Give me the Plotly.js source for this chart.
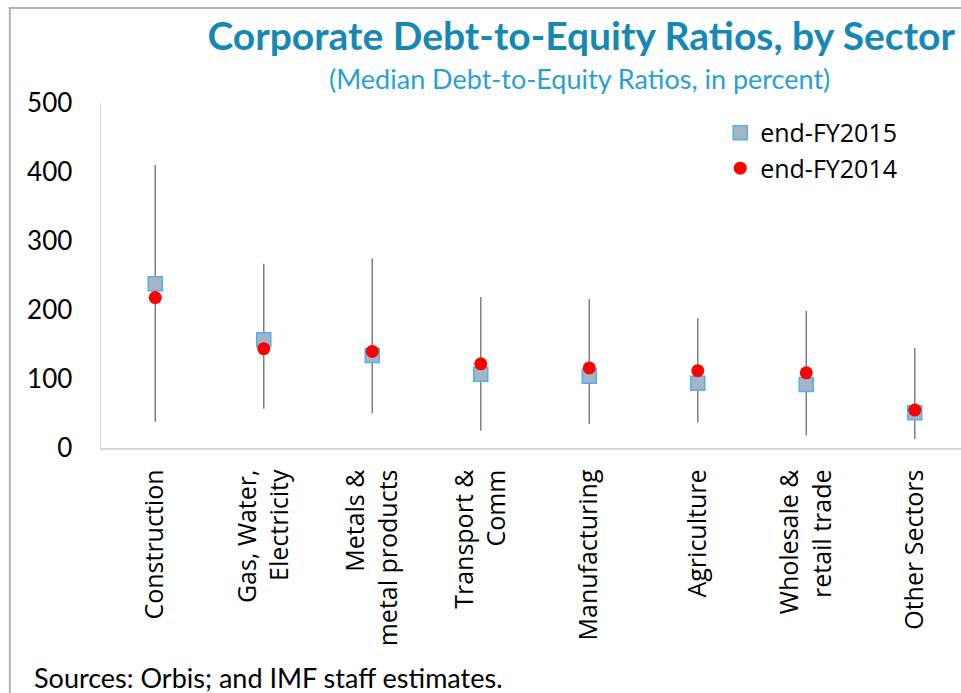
<!DOCTYPE html>
<html><head><meta charset="utf-8">
<script src="https://cdn.plot.ly/plotly-3.0.1.min.js"></script>
<style>html,body{margin:0;padding:0;background:#fff;}#chart{width:961px;height:693px;}</style>
</head><body><div id="chart"></div>
<script>
const categories = ["Construction","Gas, Water,<br>Electricity","Metals &<br>metal products","Transport &<br>Comm","Manufacturing","Agriculture","Wholesale &<br>retail trade","Other Sectors"];
const high = [410, 267, 275, 219, 216, 188, 199, 145];
const low = [38, 57, 50, 25, 35, 37, 18, 13];
const fy2015 = [238, 157, 134, 107, 104, 94, 92, 51];
const fy2014 = [218, 144, 140, 122, 116, 112, 109, 55];
const yTicks = [0, 100, 200, 300, 400, 500];

const idx = categories.map((c, i) => i);
const rx = [], ry = [];
idx.forEach(i => { rx.push(i, i, null); ry.push(low[i], high[i], null); });

const traces = [
  {x: rx, y: ry, mode: 'lines', line: {color: '#7f7f7f', width: 1.5}, showlegend: false, hoverinfo: 'skip', connectgaps: false},
  {x: idx, y: fy2015, mode: 'markers', name: 'end-FY2015',
   marker: {symbol: 'square', size: 14, color: '#a6b4c7', line: {color: '#4fb3e8', width: 1.5}}},
  {x: idx, y: fy2014, mode: 'markers', name: 'end-FY2014',
   marker: {symbol: 'circle', size: 13, color: '#ff0000', line: {width: 0}}}
];

const layout = {
  width: 961, height: 693,
  margin: {l: 101, r: 0, t: 103, b: 245},
  paper_bgcolor: '#fff', plot_bgcolor: '#fff',
  showlegend: true,
  legend: {x: 0.72, y: 0.98, xanchor: 'left', yanchor: 'top', font: {family: 'Open Sans, sans-serif', size: 25, color: '#000'}, bgcolor: 'rgba(0,0,0,0)', tracegroupgap: 0, itemsizing: 'trace'},
  xaxis: {
    range: [-0.5, 7.426], tickmode: 'array', tickvals: idx, ticktext: categories,
    tickangle: -90, showgrid: false, zeroline: false, showline: true, linecolor: '#d9d9d9', linewidth: 1.5,
    ticks: '', ticklabelstandoff: 10, tickfont: {family: 'Open Sans, sans-serif', size: 25, color: '#000'}, fixedrange: true
  },
  yaxis: {
    range: [0, 500], tickmode: 'array', tickvals: yTicks, showgrid: false, zeroline: false,
    showline: true, linecolor: '#d9d9d9', linewidth: 1.5, ticks: '', ticklabelstandoff: 22,
    tickfont: {family: 'Lato, sans-serif', size: 26, color: '#000'}, fixedrange: true
  },
  title: {text: '<b>Corporate Debt-to-Equity Ratios, by Sector</b>', x: 0.993, xanchor: 'right', xref: 'paper', y: 0.948, yanchor: 'middle',
    font: {family: 'Lato, sans-serif', size: 39, color: '#1589b4'}},
  annotations: [
    {text: '(Median Debt-to-Equity Ratios, in percent)', xref: 'paper', yref: 'paper', x: 0.556, y: 1.072, xanchor: 'center', yanchor: 'middle', showarrow: false,
     font: {family: 'Lato, sans-serif', size: 27, color: '#2a9fd6'}},
    {text: 'Sources: Orbis; and IMF staff estimates.', xref: 'paper', yref: 'paper', x: -0.08, y: -0.665, xanchor: 'left', yanchor: 'middle', showarrow: false,
     font: {family: 'Lato, sans-serif', size: 27, color: '#000'}}
  ],
  shapes: [
    {type: 'path', xref: 'paper', yref: 'paper', path: 'M -0.106 -0.8 L -0.106 1.2754 L 1.2 1.2754', line: {color: '#b3b3b3', width: 2}}
  ]
};
Plotly.newPlot('chart', traces, layout, {displayModeBar: false, staticPlot: true});
</script></body></html>
